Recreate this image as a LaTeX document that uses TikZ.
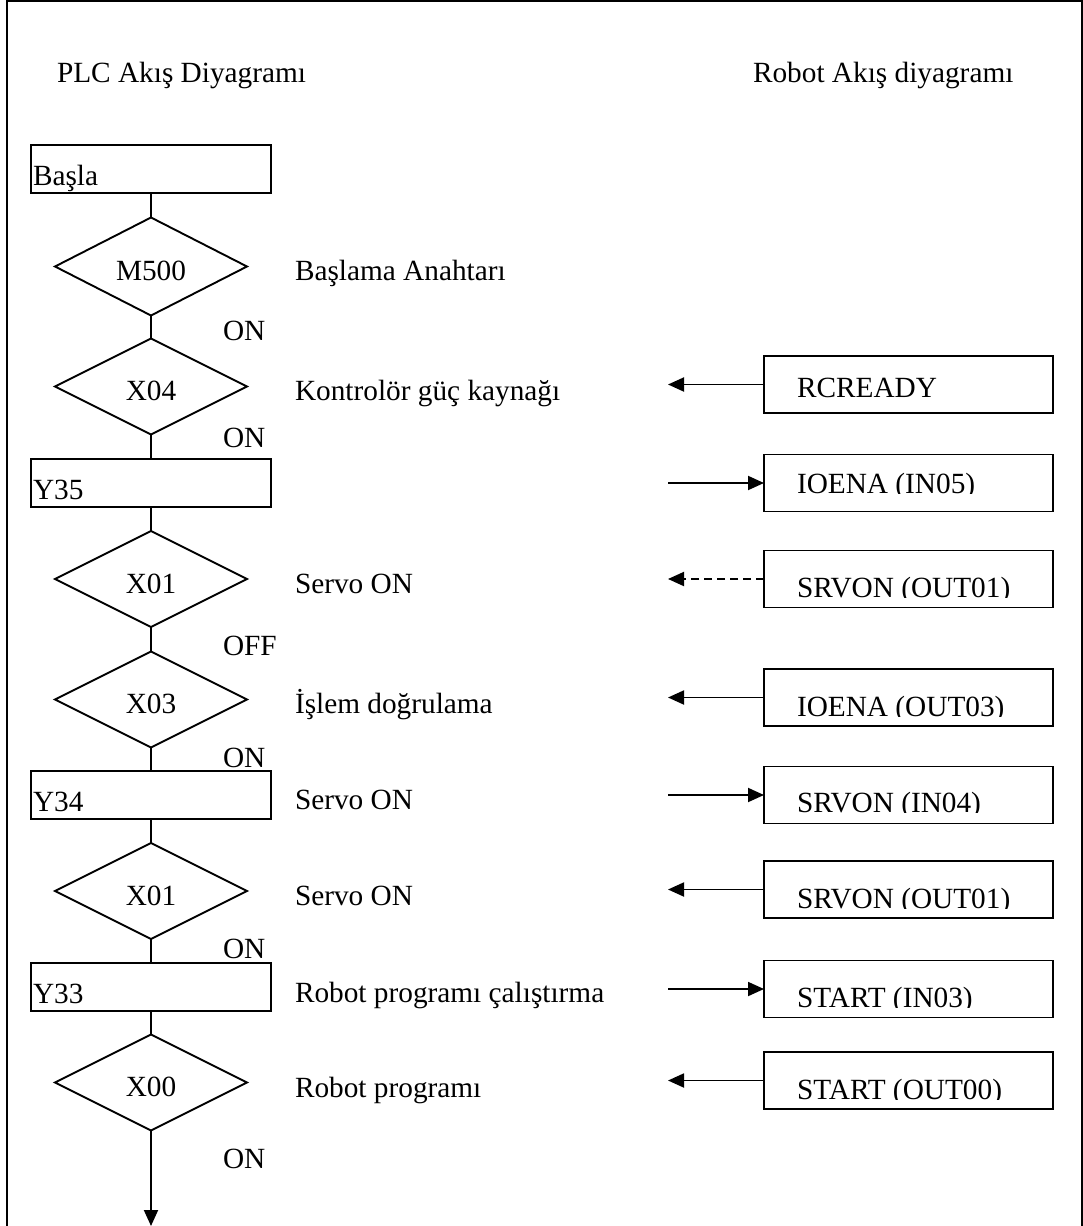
\documentclass[tikz,border=0pt]{standalone}
\usepackage{fontspec}
\setmainfont{Liberation Serif}
\usetikzlibrary{shapes.geometric,arrows.meta}
% robot-side signal box: name, centre y, baseline height above the bottom edge, text
\newcommand{\robotsig}[4]{%
  \node[robotbox] (#1) at (908.5,#2) {};
  \begin{scope}
    \clip ([yshift=#3]#1.south west) rectangle (#1.north east);
    \node[boxtext] (#1T) at ([shift={(33pt,#3)}]#1.south west) {#4};
  \end{scope}}
\begin{document}
\begin{tikzpicture}[x=1pt,y=-1pt,
  font=\fontsize{29.3}{35}\selectfont,
  every node/.style={inner sep=0pt, outer sep=0pt},
  frame/.style={line width=1.8pt},
  flow/.style={line width=1.9pt},
  decision/.style={draw, line width=1.9pt, shape=diamond,
    minimum width=192pt, minimum height=96pt, text height=28pt, text depth=0pt},
  plcbox/.style={draw, line width=1.9pt, minimum width=240pt, minimum height=48pt},
  robotbox/.style={draw, line width=1.9pt, minimum width=289pt, minimum height=57pt},
  boxtext/.style={anchor=base west},
  note/.style={anchor=base west},
  sig/.style={line width=1.9pt, -{Triangle[length=16pt,width=14pt]}},
  sigdash/.style={sig, dash pattern=on 8pt off 5pt}
]
\useasboundingbox (0,0) rectangle (1083,1226);

% outer frame
\draw[frame] (7,1226) -- (7,1) -- (1082,1) -- (1082,1226);

% headings
\node[note] (plctitle) at (57,82) {PLC Akış Diyagramı};
\node[note] (robottitle) at (753,82) {Robot Akış diyagramı};

% PLC flow
\node[plcbox] (start) at (151,169) {};
\node[boxtext] (startT) at ([shift={(2pt,8pt)}]start.south west) {Başla};
\node[decision] (m500) at (151,266.5) {M500};
\node[decision] (x04) at (151,386.5) {X04};
\node[plcbox] (y35) at (151,483) {};
\node[boxtext] (y35T) at ([shift={(2pt,8pt)}]y35.south west) {Y35};
\node[decision] (x01a) at (151,579) {X01};
\node[decision] (x03) at (151,699.5) {X03};
\node[plcbox] (y34) at (151,795) {};
\node[boxtext] (y34T) at ([shift={(2pt,8pt)}]y34.south west) {Y34};
\node[decision] (x01b) at (151,891) {X01};
\node[plcbox] (y33) at (151,987) {};
\node[boxtext] (y33T) at ([shift={(2pt,8pt)}]y33.south west) {Y33};
\node[decision] (x00) at (151,1082.5) {X00};
\coordinate (flowend) at (151,1226);

\draw[flow] (start.south) -- (m500.north);
\draw[flow] (m500.south) -- (x04.north);
\draw[flow] (x04.south) -- (y35.north);
\draw[flow] (y35.south) -- (x01a.north);
\draw[flow] (x01a.south) -- (x03.north);
\draw[flow] (x03.south) -- (y34.north);
\draw[flow] (y34.south) -- (x01b.north);
\draw[flow] (x01b.south) -- (y33.north);
\draw[flow] (y33.south) -- (x00.north);
\draw[sig] (x00.south) -- (flowend);

% branch conditions
\node[note] (c1) at (223,340) {ON};
\node[note] (c2) at (223,447) {ON};
\node[note] (c3) at (223,655) {OFF};
\node[note] (c4) at (223,767) {ON};
\node[note] (c5) at (223,958) {ON};
\node[note] (c6) at (223,1168) {ON};

% descriptions
\node[note] (d1) at (295,280) {Başlama Anahtarı};
\node[note] (d2) at (295,400) {Kontrolör güç kaynağı};
\node[note] (d3) at (295,593) {Servo ON};
\node[note] (d4) at (295,713) {İşlem doğrulama};
\node[note] (d5) at (295,809) {Servo ON};
\node[note] (d6) at (295,905) {Servo ON};
\node[note] (d7) at (295,1002) {Robot programı çalıştırma};
\node[note] (d8) at (295,1097) {Robot programı};

% robot signals
\robotsig{rc}{384.5}{16pt}{RCREADY}
\robotsig{ioin}{483}{18pt}{IOENA (IN05)}
\robotsig{srv1}{579}{10pt}{SRVON (OUT01)}
\robotsig{ioout}{697.5}{10pt}{IOENA (OUT03)}
\robotsig{srvin}{795}{11pt}{SRVON (IN04)}
\robotsig{srv2}{889.5}{10pt}{SRVON (OUT01)}
\robotsig{stin}{989}{10pt}{START (IN03)}
\robotsig{stout}{1080.5}{10pt}{START (OUT00)}

\coordinate (tipx) at (668,0);
\draw[sig] (rc.west) -- (rc.west -| tipx);
\draw[sig] (ioin.west -| tipx) -- (ioin.west);
\draw[sigdash] (srv1.west) -- (srv1.west -| tipx);
\draw[sig] (ioout.west) -- (ioout.west -| tipx);
\draw[sig] (srvin.west -| tipx) -- (srvin.west);
\draw[sig] (srv2.west) -- (srv2.west -| tipx);
\draw[sig] (stin.west -| tipx) -- (stin.west);
\draw[sig] (stout.west) -- (stout.west -| tipx);
\end{tikzpicture}
\end{document}
